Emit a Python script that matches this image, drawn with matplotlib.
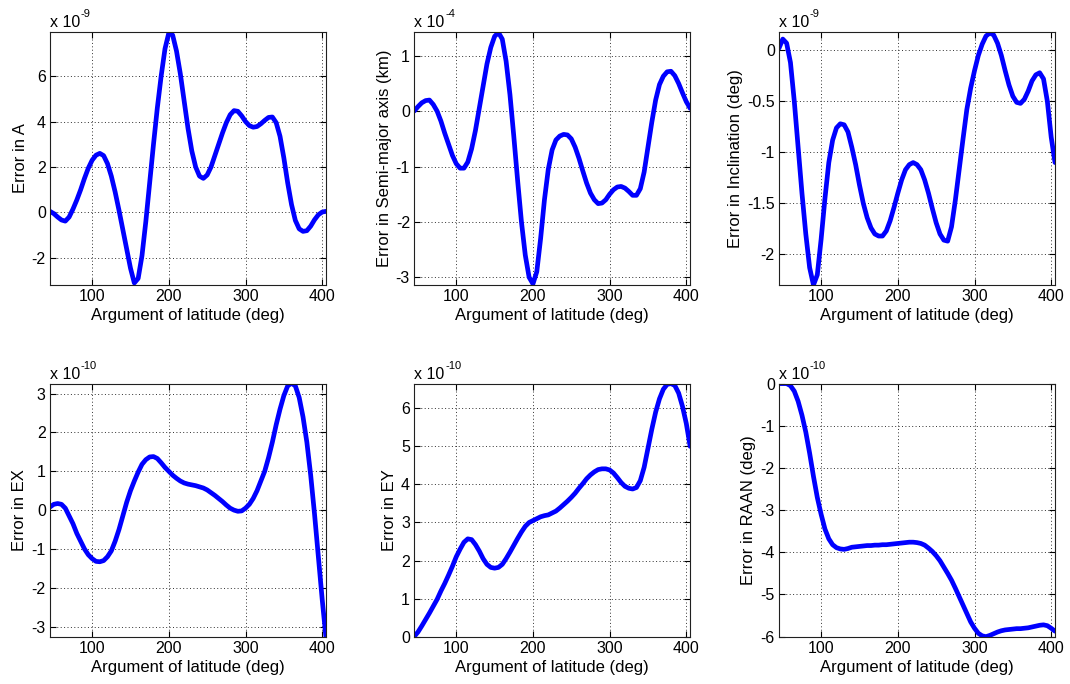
import numpy as np
import matplotlib
matplotlib.use('Agg')
import matplotlib.pyplot as plt

plt.rcParams['font.family'] = ['Liberation Sans', 'DejaVu Sans']
plt.rcParams['axes.unicode_minus'] = False

# argument of latitude (deg)
lat = [45, 50, 55, 60, 65, 70, 75, 80, 85, 90, 95, 100, 105, 110, 115, 120,
       125, 130, 135, 140, 145, 150, 155, 160, 165, 170, 175, 180, 185, 190,
       195, 200, 205, 210, 215, 220, 225, 230, 235, 240, 245, 250, 255, 260,
       265, 270, 275, 280, 285, 290, 295, 300, 305, 310, 315, 320, 325, 330,
       335, 340, 345, 350, 355, 360, 365, 370, 375, 380, 385, 390, 395, 400, 405]

# errors, in units of the exponent shown above each plot
err_a = [0.05, -0.05, -0.2, -0.33, -0.38, -0.2, 0.15, 0.55, 1.0, 1.5, 1.95, 2.3,
         2.52, 2.6, 2.5, 2.15, 1.6, 0.9, 0.1, -0.75, -1.6, -2.45, -3.1, -2.9,
         -1.9, -0.4, 1.3, 3.0, 4.6, 6.0, 7.2, 7.9, 7.8, 7.1, 6.1, 4.9, 3.7, 2.7,
         2.0, 1.6, 1.5, 1.65, 2.0, 2.5, 3.0, 3.5, 3.95, 4.3, 4.48, 4.45, 4.25,
         4.0, 3.82, 3.75, 3.78, 3.9, 4.05, 4.18, 4.2, 3.95, 3.35, 2.4, 1.3, 0.35,
         -0.35, -0.72, -0.83, -0.8, -0.6, -0.32, -0.1, 0.02, 0.05]

err_sma = [0.0, 0.08, 0.15, 0.19, 0.2, 0.12, 0.0, -0.18, -0.4, -0.6, -0.8, -0.95,
           -1.03, -1.03, -0.92, -0.68, -0.35, 0.05, 0.45, 0.85, 1.15, 1.35, 1.42,
           1.3, 0.9, 0.3, -0.45, -1.25, -2.0, -2.6, -3.0, -3.12, -2.9, -2.3, -1.6,
           -1.05, -0.7, -0.52, -0.45, -0.42, -0.43, -0.5, -0.65, -0.85, -1.08,
           -1.3, -1.48, -1.6, -1.67, -1.66, -1.6, -1.5, -1.42, -1.37, -1.36,
           -1.39, -1.45, -1.52, -1.52, -1.4, -1.1, -0.65, -0.2, 0.2, 0.48, 0.63,
           0.71, 0.72, 0.64, 0.5, 0.33, 0.17, 0.05]

err_inc = [0.02, 0.11, 0.07, -0.12, -0.5, -0.95, -1.4, -1.8, -2.13, -2.3, -2.2,
           -1.85, -1.45, -1.1, -0.88, -0.76, -0.72, -0.73, -0.8, -0.95, -1.12,
           -1.32, -1.5, -1.64, -1.74, -1.8, -1.82, -1.82, -1.77, -1.67, -1.54,
           -1.4, -1.27, -1.17, -1.12, -1.1, -1.12, -1.17, -1.27, -1.4, -1.55,
           -1.69, -1.8, -1.86, -1.87, -1.73, -1.47, -1.17, -0.87, -0.58, -0.37,
           -0.2, -0.05, 0.06, 0.14, 0.17, 0.15, 0.07, -0.05, -0.2, -0.34, -0.45,
           -0.51, -0.52, -0.48, -0.4, -0.3, -0.24, -0.22, -0.28, -0.5, -0.85, -1.1]

err_ex = [0.08, 0.15, 0.17, 0.15, 0.05, -0.15, -0.35, -0.6, -0.8, -1.0, -1.15,
          -1.25, -1.32, -1.33, -1.3, -1.2, -1.05, -0.8, -0.5, -0.15, 0.2, 0.5,
          0.75, 0.98, 1.18, 1.3, 1.37, 1.38, 1.33, 1.22, 1.1, 1.0, 0.9, 0.82,
          0.75, 0.7, 0.67, 0.65, 0.63, 0.6, 0.57, 0.52, 0.45, 0.38, 0.3, 0.22,
          0.13, 0.05, 0.0, -0.03, -0.02, 0.05, 0.15, 0.3, 0.5, 0.75, 1.0, 1.35,
          1.75, 2.2, 2.6, 2.95, 3.2, 3.27, 3.2, 2.9, 2.4, 1.75, 0.9, -0.1, -1.2,
          -2.3, -3.3]

err_ey = [0.0, 0.12, 0.28, 0.45, 0.62, 0.8, 0.98, 1.2, 1.4, 1.62, 1.85, 2.1, 2.3,
          2.48, 2.57, 2.55, 2.42, 2.25, 2.05, 1.9, 1.82, 1.8, 1.82, 1.9, 2.05,
          2.22, 2.4, 2.58, 2.75, 2.9, 3.0, 3.05, 3.1, 3.15, 3.18, 3.2, 3.25, 3.3,
          3.38, 3.47, 3.56, 3.66, 3.77, 3.9, 4.02, 4.15, 4.25, 4.33, 4.39, 4.41,
          4.41, 4.38, 4.3, 4.18, 4.05, 3.95, 3.9, 3.88, 3.92, 4.1, 4.45, 4.95,
          5.45, 5.9, 6.25, 6.5, 6.63, 6.65, 6.6, 6.4, 6.05, 5.6, 5.0]

err_raan = [0.0, 0.0, 0.0, -0.05, -0.18, -0.42, -0.75, -1.15, -1.65, -2.2, -2.7,
            -3.1, -3.45, -3.68, -3.82, -3.89, -3.92, -3.93, -3.91, -3.88, -3.87,
            -3.86, -3.85, -3.84, -3.84, -3.83, -3.83, -3.82, -3.82, -3.81, -3.8,
            -3.79, -3.78, -3.77, -3.76, -3.76, -3.77, -3.79, -3.83, -3.9, -3.98,
            -4.08, -4.2, -4.35, -4.5, -4.66, -4.85, -5.05, -5.25, -5.45, -5.65,
            -5.8, -5.92, -5.98, -6.0, -5.97, -5.93, -5.89, -5.86, -5.84, -5.83,
            -5.82, -5.81, -5.81, -5.8, -5.79, -5.77, -5.75, -5.73, -5.72, -5.74,
            -5.8, -5.87]

panels = [
    (err_a, 'Error in A', '-9', (-3.19, 7.94), [-2, 0, 2, 4, 6]),
    (err_sma, 'Error in Semi-major axis (km)', '-4', (-3.14, 1.43), [-3, -2, -1, 0, 1]),
    (err_inc, 'Error in Inclination (deg)', '-9', (-2.3, 0.18), [-2, -1.5, -1, -0.5, 0]),
    (err_ex, 'Error in EX', '-10', (-3.26, 3.26), [-3, -2, -1, 0, 1, 2, 3]),
    (err_ey, 'Error in EY', '-10', (0, 6.65), [0, 1, 2, 3, 4, 5, 6]),
    (err_raan, 'Error in RAAN (deg)', '-10', (-6, 0), [-6, -5, -4, -3, -2, -1, 0]),
]

lefts = [0.0467, 0.387, 0.728]
bottoms = [0.5833, 0.0692]
w, h = 0.258, 0.370

fig = plt.figure(figsize=(10.7, 6.84), dpi=100)

for i, (vals, ylab, expo, ylim, yticks) in enumerate(panels):
    ax = fig.add_axes([lefts[i % 3], bottoms[i // 3], w, h])
    ax.plot(lat, vals, color='#0000ff', lw=3.4, solid_capstyle='round',
            solid_joinstyle='round')
    ax.set_xlim(45, 405)
    ax.set_ylim(*ylim)
    ax.set_xticks([100, 200, 300, 400])
    ax.set_yticks(yticks)
    ax.set_yticklabels(['%g' % t for t in yticks])
    ax.grid(True, color='#303030', linestyle=(0, (1, 2.5)), linewidth=0.7)
    ax.tick_params(direction='in', top=True, right=True, length=4,
                   labelsize=11.5, pad=3)
    for s in ax.spines.values():
        s.set_linewidth(0.8)
        s.set_color('#202020')
    ax.set_xlabel('Argument of latitude (deg)', fontsize=12, labelpad=3)
    ax.set_ylabel(ylab, fontsize=12, labelpad=3)
    base = ax.text(0.0, 1.02, 'x 10', transform=ax.transAxes,
                   fontsize=11.5, ha='left', va='baseline')
    ax.annotate(expo, xy=(1, 1), xycoords=base, xytext=(0.5, -3),
                textcoords='offset points', fontsize=8, ha='left', va='bottom')

fig.savefig('out.png', dpi=100)
